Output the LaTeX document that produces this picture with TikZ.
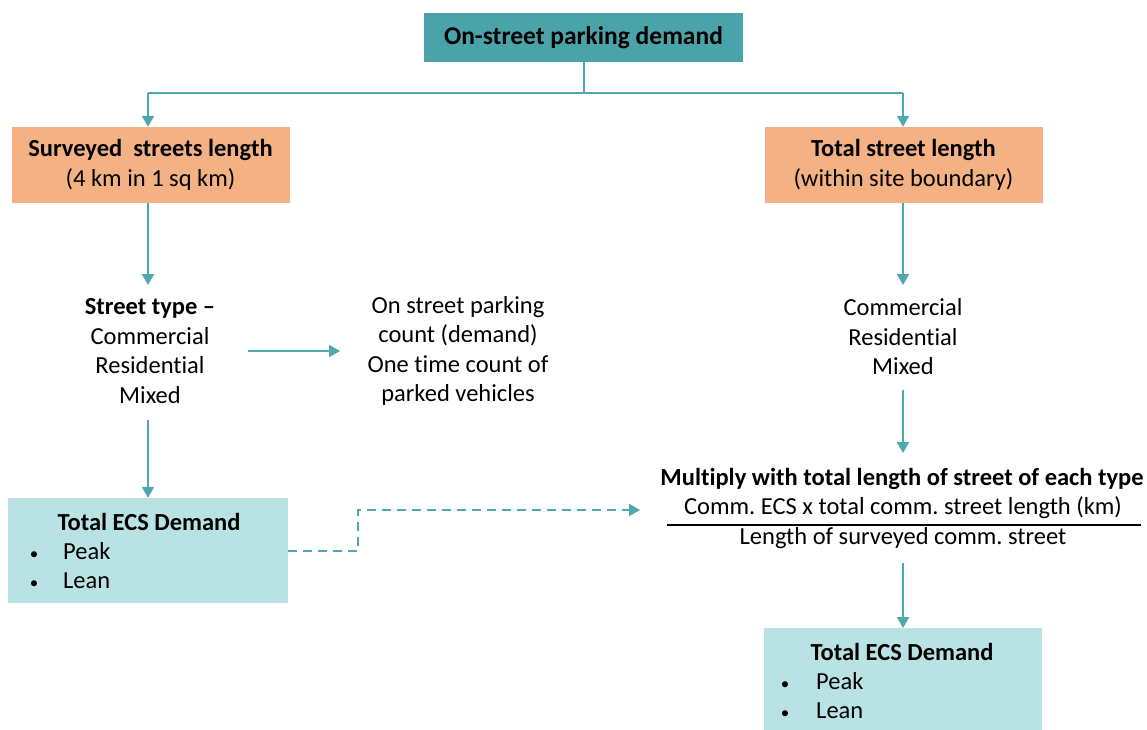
\documentclass[tikz,border=0pt]{standalone}
\usepackage{fontspec}
\setmainfont{Carlito}[Ligatures={NoCommon}]
\usetikzlibrary{arrows.meta}
\frenchspacing
\definecolor{tealdark}{HTML}{4AA3A9}
\definecolor{tealline}{HTML}{4FA8AE}
\definecolor{tealpale}{HTML}{B9E2E5}
\definecolor{salmon}{HTML}{F4B183}
\newcommand{\bodyfont}{\fontsize{24.5}{29.5}\selectfont}
\newcommand{\smallbullet}{\makebox[8pt][c]{\fontsize{17}{17}\selectfont\textbullet}}
\begin{document}
\begin{tikzpicture}[x=1pt,y=-1pt,
  txt/.style={font=\bodyfont, align=center, inner sep=0pt, text=black},
  btxt/.style={txt, font=\bodyfont\bfseries},
  topbox/.style={fill=tealdark, draw=none, minimum width=319pt, minimum height=49pt, inner sep=0pt, font=\fontsize{25.5}{30}\selectfont\bfseries},
  orangebox/.style={fill=salmon, draw=none, minimum width=278pt, minimum height=76pt, inner sep=0pt, align=center, font=\bodyfont},
  palebox/.style={fill=tealpale, draw=none, inner sep=0pt},
  flow/.style={draw=tealline, line width=2pt, -{Triangle[length=11pt,width=12pt]}},
  link/.style={draw=tealline, line width=2pt},
  dashlink/.style={draw=tealline, line width=2pt, dash pattern=on 9pt off 6pt, -{Triangle[length=11pt,width=12pt]}}
]
\useasboundingbox (0,0) rectangle (1147,729);

% top of the tree
\node[topbox] (top) at (583.5,37.5) {On-street parking demand};
\coordinate (split) at (583.5,93);
\coordinate (lcorner) at (148,93);
\coordinate (rcorner) at (903,93);

% second level
\node[orangebox] (survey) at (150.5,165) {\textbf{Surveyed\ \ streets length}\\(4 km in 1 sq km)};
\node[orangebox] (total) at (903.5,165) {\textbf{Total street length}\\(within site boundary)};

\draw[link] (top.south) -- (split);
\draw[link] (lcorner) -- (rcorner);
\draw[flow] (lcorner) -- (survey.north -| lcorner);
\draw[flow] (rcorner) -- (total.north -| rcorner);

% left branch
\node[txt] (stype) at (150,351) {\textbf{Street type –}\\Commercial\\Residential\\Mixed};
\node[txt] (count) at (458,351) {On street parking\\count (demand)\\One time count of\\parked vehicles};
\coordinate (stypeN) at (148,285);
\coordinate (stypeS) at (148,420);
\draw[flow] (survey.south -| lcorner) -- (stypeN);
\draw[flow] (248,351) -- (340,351);

\node[palebox, minimum width=280pt, minimum height=105pt] (ldemand) at (148,550.5) {};
\node[btxt] (ltitle) at (149,522) {Total ECS Demand};
\node[txt, anchor=west] (lpeak) at (30,551) {\smallbullet\hspace{25pt}Peak};
\node[txt, anchor=west] (llean) at (30,580.5) {\smallbullet\hspace{25pt}Lean};
\draw[flow] (stypeS) -- (ldemand.north -| stypeS);

% right branch
\node[txt] (rtype) at (903,337) {Commercial\\Residential\\Mixed};
\draw[flow] (total.south -| rcorner) -- (903,285);

\node[btxt] (mult) at (902,479) {Multiply with total length of street of each type};
\node[txt] (numer) at (903,508) {Comm. ECS x total comm. street length (km)};
\node[txt] (denom) at (903,538) {Length of surveyed comm. street};
\coordinate (barL) at (667,525);
\coordinate (barR) at (1141,525);
\draw[line width=1.6pt, black] (barL) -- (barR);
\draw[flow] (903,390) -- (903,453);

\node[palebox, minimum width=278pt, minimum height=102pt, anchor=north] (rdemand) at (903,628) {};
\node[btxt] (rtitle) at (902,652) {Total ECS Demand};
\node[txt, anchor=west] (rpeak) at (781,681.5) {\smallbullet\hspace{27pt}Peak};
\node[txt, anchor=west] (rlean) at (781,710.5) {\smallbullet\hspace{27pt}Lean};
\draw[flow] (903,563) -- (rdemand.north);

% dashed transfer between the two demand estimates
\coordinate (dstep) at (358,551);
\coordinate (dend) at (640,510);
\draw[dashlink] (ldemand.east |- dstep) -- (dstep) -- (dstep |- dend) -- (dend);
\end{tikzpicture}
\end{document}
